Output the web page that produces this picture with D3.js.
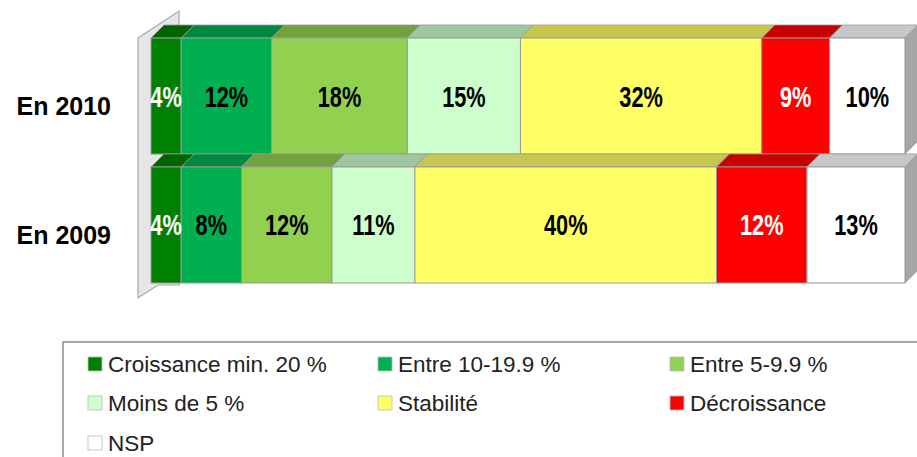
<!DOCTYPE html>
<html>
<head>
<meta charset="utf-8">
<script src="https://cdn.jsdelivr.net/npm/d3@7"></script>
<style>
  body { margin: 0; background: #fff; }
  svg { display: block; }
</style>
</head>
<body>
<div id="chart"></div>
<script>
// data
const years = ['En 2010', 'En 2009']
const categories = ['Croissance min. 20 %', 'Entre 10-19.9 %', 'Entre 5-9.9 %', 'Moins de 5 %', 'Stabilité', 'Décroissance', 'NSP']
const values2010 = [4, 12, 18, 15, 32, 9, 10]
const values2009 = [4, 8, 12, 11, 40, 12, 13]

const colors = ['#008000', '#00b050', '#92d050', '#ccffcc', '#ffff66', '#ff0000', '#ffffff']
const whiteLabel = ['Croissance min. 20 %', 'Décroissance']

const width = 917
const height = 457
const depthX = 13
const depthY = -13

const svg = d3.select('#chart')
              .append('svg')
              .attr('width', width)
              .attr('height', height)

const x = d3.scaleLinear()
            .domain([0, 100])
            .range([151, 905])

const y = d3.scaleBand()
            .domain(years)
            .range([38, 283])
            .paddingInner(0.1)

const color = d3.scaleOrdinal()
                .domain(categories)
                .range(colors)

// left wall
svg.append('polygon')
   .attr('points', [[138, 38], [179, 11], [179, 285], [158, 285], [138, 298]].map(p => p.join(',')).join(' '))
   .attr('fill', '#e6e6e6')
   .attr('stroke', '#a6a6a6')
   .attr('stroke-width', 1.2)

const rows = [
  { year: years[0], values: values2010 },
  { year: years[1], values: values2009 }
]

const pts = arr => arr.map(p => p.join(',')).join(' ')

rows.forEach(row => {
  let acc = 0
  const segs = row.values.map((v, i) => {
    const s = { cat: categories[i], v: v, x0: acc, x1: acc + v }
    acc += v
    return s
  })
  const y0 = y(row.year)
  const y1 = y0 + y.bandwidth()
  const g = svg.append('g')

  // top faces
  g.selectAll('.top')
   .data(segs)
   .enter().append('polygon')
   .attr('points', d => pts([[x(d.x0), y0], [x(d.x0) + depthX, y0 + depthY], [x(d.x1) + depthX, y0 + depthY], [x(d.x1), y0]]))
   .attr('fill', d => d3.color(color(d.cat)).darker(0.7))
   .attr('stroke', '#999')
   .attr('stroke-width', 0.8)

  // right side face of the last segment
  const last = segs[segs.length - 1]
  g.append('polygon')
   .attr('points', pts([[x(last.x1), y0], [x(last.x1) + depthX, y0 + depthY], [x(last.x1) + depthX, y1 + depthY], [x(last.x1), y1]]))
   .attr('fill', d3.color(color(last.cat)).darker(1.2))
   .attr('stroke', '#999')
   .attr('stroke-width', 0.8)

  // front faces
  g.selectAll('.front')
   .data(segs)
   .enter().append('rect')
   .attr('x', d => x(d.x0))
   .attr('y', y0)
   .attr('width', d => x(d.x1) - x(d.x0))
   .attr('height', y.bandwidth())
   .attr('fill', d => color(d.cat))
   .attr('stroke', '#999')
   .attr('stroke-width', 1)

  // narrow bold labels (no narrow font installed, so squeeze horizontally)
  g.selectAll('.lbl')
   .data(segs)
   .enter().append('text')
   .attr('transform', d => `translate(${(x(d.x0) + x(d.x1)) / 2}, ${y0 + y.bandwidth() / 2 + 10.5}) scale(0.75, 1)`)
   .attr('text-anchor', 'middle')
   .attr('font-family', '"Liberation Sans", Arial, sans-serif')
   .attr('font-weight', 'bold')
   .attr('font-size', 29)
   .attr('fill', d => whiteLabel.includes(d.cat) ? '#fff' : '#000')
   .text(d => d.v + '%')

  svg.append('text')
     .attr('x', 111)
     .attr('y', y0 + y.bandwidth() / 2 + 19)
     .attr('text-anchor', 'end')
     .attr('font-family', '"Liberation Sans", Arial, sans-serif')
     .attr('font-weight', 'bold')
     .attr('font-size', 25)
     .attr('fill', '#000')
     .text(row.year)
})

// legend
const legend = svg.append('g')
legend.append('rect')
      .attr('x', 63)
      .attr('y', 342)
      .attr('width', 880)
      .attr('height', 140)
      .attr('fill', '#fff')
      .attr('stroke', '#8c8c8c')
      .attr('stroke-width', 1.5)

const colX = [88, 378, 670]
const rowY = [364, 403, 443]

const item = legend.selectAll('.item')
                   .data(categories)
                   .enter().append('g')
                   .attr('transform', (d, i) => `translate(${colX[i % 3]}, ${rowY[Math.floor(i / 3)]})`)

item.append('rect')
    .attr('x', 0)
    .attr('y', -7)
    .attr('width', 14)
    .attr('height', 14)
    .attr('fill', d => color(d))
    .attr('stroke', '#bbb')
    .attr('stroke-width', 0.8)

item.append('text')
    .attr('x', 20)
    .attr('y', 7.5)
    .attr('font-family', '"Liberation Sans", Arial, sans-serif')
    .attr('font-size', 22.5)
    .attr('fill', '#222')
    .text(d => d)
</script>
</body>
</html>
